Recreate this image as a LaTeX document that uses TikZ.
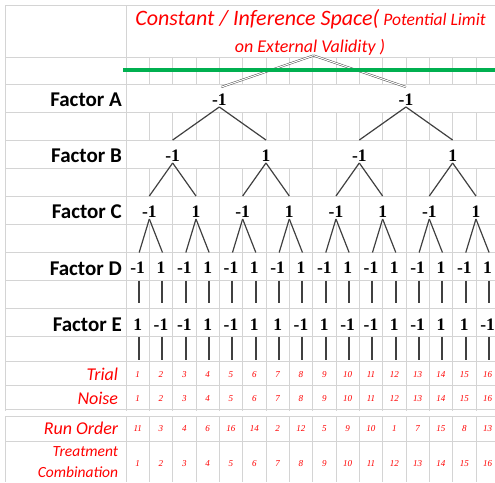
\documentclass[tikz,border=0pt]{standalone}
\usepackage{fontspec}
\setmainfont{Carlito}
\newfontfamily\numfont{Liberation Serif}
\definecolor{gridgray}{RGB}{212,212,212}
\definecolor{treegray}{RGB}{64,64,64}
\definecolor{xlgreen}{RGB}{0,176,80}
\definecolor{xlred}{RGB}{255,0,0}

\begin{document}
\begin{tikzpicture}[x=1pt, y=-1pt,
		gridline/.style={draw=gridgray, line width=0.9pt},
		tree/.style={draw=treegray, line width=1.2pt},
		stem/.style={draw=treegray, line width=2pt},
		dbl/.style={draw=treegray, double=white, double distance=1.1pt, line width=0.45pt},
		lvl/.style={font=\numfont\bfseries\fontsize{17.5}{17.5}\selectfont, inner sep=1pt},
		rnum/.style={font=\numfont\itshape\fontsize{9}{9}\selectfont, text=xlred},
		flabel/.style={font=\bfseries\fontsize{21}{21}\selectfont, anchor=east, inner sep=0pt},
		rlabel/.style={font=\itshape\fontsize{18}{18}\selectfont, text=xlred, anchor=east, inner sep=0pt}
		]
	\def\colw{23.33}
	\useasboundingbox (0,0) rectangle (495,482);
	\clip (0,0) rectangle (495,482);
	
	% sheet grid
	\foreach \y in {5,57,84,112.1,140.2,168.3,196.4,224.5,252.6,280.7,308.8,336.9,361.7,385.7,409.5,416,441}
		\draw[gridline] (5,\y) -- (495,\y);
	\draw[gridline] (5,5) -- (5,411) (5,416) -- (5,482);
	\draw[gridline] (126,5) -- (126,57);
	\foreach \i in {0,...,16}{
		\pgfmathsetmacro\xx{126+\i*\colw}
		\draw[gridline] (\xx,57) -- (\xx,84) (\xx,112.1) -- (\xx,140.2)
			(\xx,168.3) -- (\xx,196.4) (\xx,224.5) -- (\xx,411) (\xx,416) -- (\xx,482);
	}
	\foreach \i in {0,2,...,16}{
		\pgfmathsetmacro\xx{126+\i*\colw}
		\draw[gridline] (\xx,196.4) -- (\xx,224.5);
	}
	\foreach \i in {0,4,...,16}{
		\pgfmathsetmacro\xx{126+\i*\colw}
		\draw[gridline] (\xx,140.2) -- (\xx,168.3);
	}
	\foreach \i in {0,8,16}{
		\pgfmathsetmacro\xx{126+\i*\colw}
		\draw[gridline] (\xx,84) -- (\xx,112.1);
	}
	
	% title
	\node[anchor=base, inner sep=0pt, text=xlred, font=\itshape\fontsize{17.5}{17.5}\selectfont]
		(title1) at (310.5,25) {{\fontsize{22}{22}\selectfont Constant / Inference Space(} Potential Limit};
	\node[anchor=base, inner sep=0pt, text=xlred, font=\itshape\fontsize{18}{18}\selectfont]
		(title2) at (310,52.7) {on External Validity )};
	
	% row labels
	\node[flabel](fa) at (122,99.5){Factor A};
	\node[flabel](fb) at (122,156){Factor B};
	\node[flabel](fc) at (122,212){Factor C};
	\node[flabel](fd) at (122,268.5){Factor D};
	\node[flabel](fe) at (122,325){Factor E};
	\node[rlabel](ltrial) at (118.3,374){Trial};
	\node[rlabel](lnoise) at (118.3,398){Noise};
	\node[rlabel](lrun) at (118.3,428.5){Run Order};
	\node[rlabel, align=right, font=\itshape\fontsize{15.5}{21}\selectfont](ltreat) at (118.3,462){Treatment\\Combination};
	
	% factor levels
	\coordinate (top) at (313.5,55.5);
	\node[lvl](a1) at ({126+4*\colw},100){-1};
	\node[lvl](a2) at ({126+12*\colw},100){-1};
	\foreach \v [count=\j] in {-1,1,-1,1}
		\node[lvl](b\j) at ({126+(4*\j-2)*\colw},156){\v};
	\foreach \v [count=\j] in {-1,1,-1,1,-1,1,-1,1}
		\node[lvl](c\j) at ({126+(2*\j-1)*\colw},212){\v};
	\foreach \v [count=\j] in {-1,1,-1,1,-1,1,-1,1,-1,1,-1,1,-1,1,-1,1}
		\node[lvl](d\j) at ({126+(\j-0.5)*\colw},268){\v};
	\foreach \v [count=\j] in {1,-1,-1,1,-1,1,1,-1,1,-1,-1,1,-1,1,1,-1}
		\node[lvl](e\j) at ({126+(\j-0.5)*\colw},325){\v};
	
	% branches
	\draw[dbl] (top) -- ([xshift=2pt, yshift=6pt]a1.north);
	\draw[dbl] (top) -- ([yshift=6pt]a2.north);
	\foreach \j [evaluate=\j as \p using {int((\j+1)/2)}] in {1,...,4}
		\draw[tree] (a\p.south) -- ([yshift=9pt]b\j.north);
	\foreach \j [evaluate=\j as \p using {int((\j+1)/2)}] in {1,...,8}
		\draw[tree] (b\p.south) -- ([yshift=9pt]c\j.north);
	\foreach \j [evaluate=\j as \p using {int((\j+1)/2)}] in {1,...,16}
		\draw[tree] (c\p.south) -- ([xshift=1.5pt, yshift=8.5pt]d\j.north);
	\foreach \j in {1,...,16}{
		\draw[stem] ([xshift=1.5pt, yshift=-6pt]d\j.south) -- ([xshift=1.5pt, yshift=15pt]e\j.north);
		\draw[stem] ([xshift=1.5pt, yshift=-5pt]e\j.south) -- ++(0,23);
	}
	
	% inference space limit
	\draw[xlgreen, line width=4pt] (123,70) -- (495,70);
	
	% trial, noise, run order, treatment combination
	\foreach \v [count=\j] in {11,3,4,6,16,14,2,12,5,9,10,1,7,15,8,13}{
		\node[rnum](t\j) at ({126+(\j-0.5)*\colw},374.5){\j};
		\node[rnum](n\j) at ({126+(\j-0.5)*\colw},398.5){\j};
		\node[rnum](r\j) at ({126+(\j-0.5)*\colw},429){\v};
		\node[rnum](tc\j) at ({126+(\j-0.5)*\colw},463.5){\j};
	}
\end{tikzpicture}
\end{document}
